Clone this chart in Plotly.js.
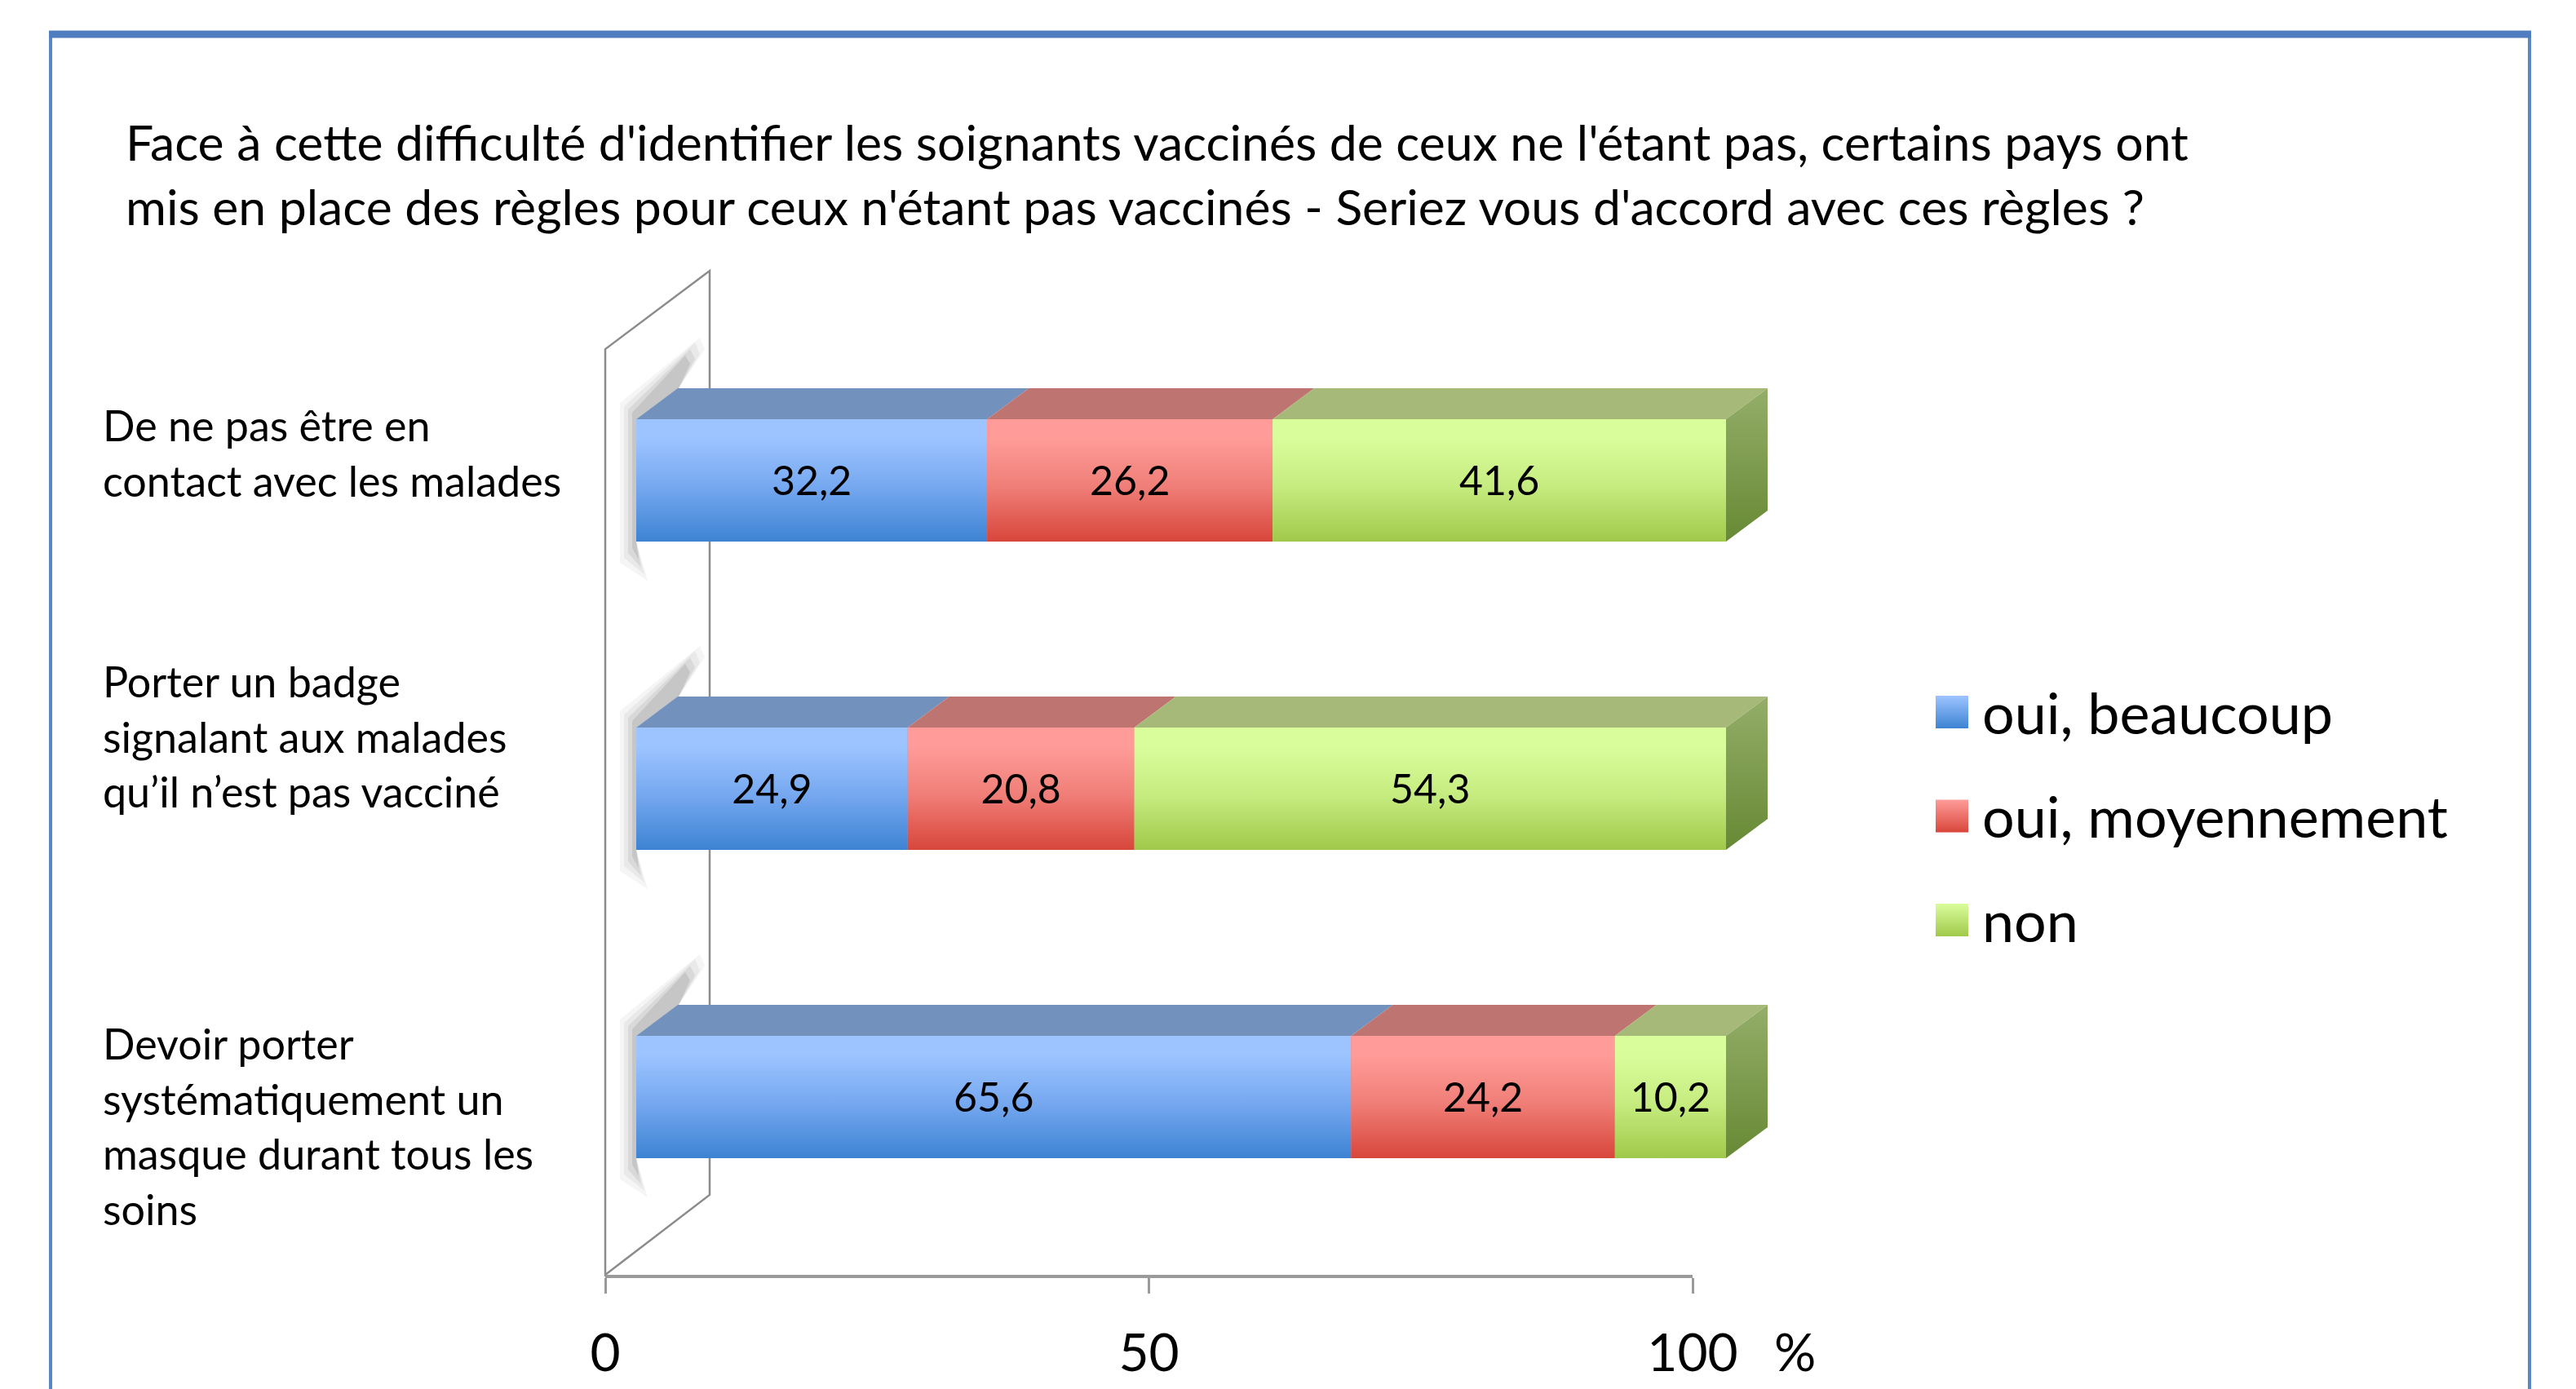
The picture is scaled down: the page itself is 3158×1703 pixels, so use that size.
<!DOCTYPE html>
<html>
<head>
<meta charset="utf-8">
<script src="https://cdn.plot.ly/plotly-3.0.1.min.js"></script>
<style>html,body{margin:0;padding:0;background:#fff;overflow:hidden}</style>
</head>
<body>
<div id="chart" style="width:3158px;height:1703px"></div>
<script>
// ---------------- data ----------------
const categories = [
  "De ne pas être en<br>contact avec les malades",
  "Porter un badge<br>signalant aux malades<br>qu’il n’est pas vacciné",
  "Devoir porter<br>systématiquement un<br>masque durant tous les<br>soins"
];
const seriesNames = ["oui, beaucoup", "oui, moyennement", "non"];
const ouiBeaucoup    = [32.2, 24.9, 65.6];
const ouiMoyennement = [26.2, 20.8, 24.2];
const non            = [41.6, 54.3, 10.2];
const xTickVals = [0, 50, 100];
const xTickText = ["0", "50", "100"];
const xUnitLabel = "%";
const titleText = "Face à cette difficulté d'identifier les soignants vaccinés de ceux ne l'étant pas, certains pays ont<br>mis en place des règles pour ceux n'étant pas vaccinés - Seriez vous d'accord avec ces règles ?";

// ---------------- layout constants ----------------
const W = 3158, H = 1703;
const FONT = "Lato, 'Open Sans', sans-serif";
const BAR_X0 = 780, BAR_PXU = 13.36;          // bar plane: px of value 0, px per unit
const X2_RANGE = [-5, 110];
const ROW_PX = 378, ROW_MID_PX = 967;          // px per category row, centre of middle row
const Y_RANGE = [-0.5, 2.5];
const BAR_W = 0.397;
const DEPTH_PX = [51, 38];
const TEXT_DY_PX = 5;
const AXIS_X0 = 742, AXIS_X1 = 2075, AXIS_Y = 1563;
const WALL = {x0: 742, x1: 870, top0: 428, top1: 332, bot0: 1563, bot1: 1465};
const LABEL_X = 124, LABEL_SHIFT = [34, 65, -35];
const LEG = {x: 2373, y0: 873, dy: 127.5, size: 40, textX: 2428};

const faces = [
  {light: '#9DC4FF', mid: '#76A8F0', dark: '#3D83D3', top: '#7291BD'},
  {light: '#FF9C99', mid: '#F07E78', dark: '#D8463B', top: '#BE7571'},
  {light: '#DAFD9C', mid: '#C6EC80', dark: '#A0C94A', top: '#A6B978', sideTop: '#94AE69', sideBot: '#678934'}
];
const grad = f => [[0, f.dark], [0.45, f.mid], [0.85, f.light], [1, f.light]];

const px = x => x / W, py = y => 1 - y / H;
const dxU = DEPTH_PX[0] / BAR_PXU, dyU = DEPTH_PX[1] / ROW_PX;
const hw = BAR_W / 2;

const series = [ouiBeaucoup, ouiMoyennement, non];
const yPos = categories.map((c, i) => categories.length - 1 - i);

const traces = [];

// floor axis carrier (keeps the tick axis in its own subplot)
traces.push({
  type: 'scatter', mode: 'markers', xaxis: 'x', yaxis: 'y4',
  x: [xTickVals[0], xTickVals[xTickVals.length - 1]], y: [0, 0],
  marker: {size: 1, opacity: 0}, hoverinfo: 'skip', showlegend: false
});

// soft shadows cast on the wall by the left end of each bar (layered to blur)
const shadowLayers = [
  [[[78,-100],[-20,-20],[-20,176],[14,198],[0,150],[0,0],[52,-38],[84,-86]], 'rgba(120,120,120,0.07)'],
  [[[72,-94],[-15,-16],[-15,170],[10,190],[0,150],[0,0],[52,-38],[78,-80]], 'rgba(120,120,120,0.09)'],
  [[[66,-86],[-10,-12],[-10,164],[6,182],[0,150],[0,0],[52,-38],[72,-74]], 'rgba(110,110,110,0.12)'],
  [[[60,-78],[-5,-8],[-5,158],[3,172],[0,150],[0,0],[52,-38],[66,-68]], 'rgba(100,100,100,0.16)']
];
yPos.forEach(yv => {
  const yt = yv + hw;
  shadowLayers.forEach(([pts, col]) => {
    traces.push({
      type: 'scatter', mode: 'lines', xaxis: 'x2', yaxis: 'y',
      x: pts.map(p => p[0] / BAR_PXU).concat([pts[0][0] / BAR_PXU]),
      y: pts.map(p => yt - p[1] / ROW_PX).concat([yt - pts[0][1] / ROW_PX]),
      fill: 'toself', fillcolor: col, line: {width: 0}, hoverinfo: 'skip', showlegend: false
    });
  });
});

// stacked bar traces (front faces)
series.forEach((vals, s) => {
  traces.push({
    type: 'bar', orientation: 'h', name: seriesNames[s], xaxis: 'x2', yaxis: 'y',
    x: vals, y: yPos, width: BAR_W,
    marker: {color: faces[s].mid, line: {width: 0}},
    hovertemplate: seriesNames[s] + ': %{x}<extra></extra>', showlegend: false
  });
});

// cumulative starts
const starts = series.map((vals, s) => vals.map((v, i) => series.slice(0, s).reduce((a, arr) => a + arr[i], 0)));

// gradient front faces
series.forEach((vals, s) => {
  vals.forEach((v, i) => {
    const a = starts[s][i], b = a + v, yb = yPos[i] - hw, yt = yPos[i] + hw;
    traces.push({
      type: 'scatter', mode: 'lines', xaxis: 'x2', yaxis: 'y',
      x: [a, b, b, a, a], y: [yb, yb, yt, yt, yb],
      fill: 'toself', fillcolor: faces[s].mid,
      fillgradient: {type: 'vertical', start: yb, stop: yt, colorscale: grad(faces[s])},
      line: {width: 0}, hoverinfo: 'skip', showlegend: false
    });
  });
});

// top faces
series.forEach((vals, s) => {
  vals.forEach((v, i) => {
    const a = starts[s][i], b = a + v, yt = yPos[i] + hw;
    traces.push({
      type: 'scatter', mode: 'lines', xaxis: 'x2', yaxis: 'y',
      x: [a, b, b + dxU, a + dxU, a], y: [yt, yt, yt + dyU, yt + dyU, yt],
      fill: 'toself', fillcolor: faces[s].top, line: {width: 0},
      hoverinfo: 'skip', showlegend: false
    });
  });
});

// side faces at the end of each bar
yPos.forEach((yv, i) => {
  const e = series.reduce((acc, arr) => acc + arr[i], 0);
  const yb = yv - hw, yt = yv + hw;
  traces.push({
    type: 'scatter', mode: 'lines', xaxis: 'x2', yaxis: 'y',
    x: [e, e + dxU, e + dxU, e, e], y: [yt, yt + dyU, yb + dyU, yb, yt],
    fill: 'toself', fillcolor: faces[2].sideTop,
    fillgradient: {type: 'vertical', start: yb, stop: yt + dyU, colorscale: [[0, faces[2].sideBot], [1, faces[2].sideTop]]},
    line: {width: 0}, hoverinfo: 'skip', showlegend: false
  });
});

// value labels
const lx = [], ly = [], lt = [];
series.forEach((vals, s) => vals.forEach((v, i) => {
  lx.push(starts[s][i] + v / 2); ly.push(yPos[i] - TEXT_DY_PX / ROW_PX); lt.push(v.toFixed(1).replace('.', ','));
}));
traces.push({
  type: 'scatter', mode: 'text', xaxis: 'x2', yaxis: 'y', x: lx, y: ly, text: lt,
  textposition: 'middle center', textfont: {family: FONT, size: 50, color: '#000'},
  hoverinfo: 'skip', showlegend: false, cliponaxis: false
});

// legend swatches (pixel-space axes)
seriesNames.forEach((n, s) => {
  const cy = LEG.y0 + s * LEG.dy, t = cy - LEG.size / 2, b = cy + LEG.size / 2;
  const l = LEG.x, r = LEG.x + LEG.size;
  traces.push({
    type: 'scatter', mode: 'lines', xaxis: 'x3', yaxis: 'y3',
    x: [l, r, r, l, l], y: [t, t, b, b, t],
    fill: 'toself', fillcolor: faces[s].mid,
    fillgradient: {type: 'vertical', start: b, stop: t, colorscale: [[0, faces[s].dark], [1, faces[s].light]]},
    line: {width: 0}, hoverinfo: 'skip', showlegend: false
  });
});

// ---------------- annotations ----------------
const annotations = [];
categories.forEach((c, i) => {
  annotations.push({
    text: c, xref: 'paper', yref: 'y', x: px(LABEL_X), y: yPos[i],
    xanchor: 'left', yanchor: 'middle', align: 'left', yshift: LABEL_SHIFT[i],
    showarrow: false, font: {family: FONT, size: 52, color: '#000'}
  });
});
seriesNames.forEach((n, s) => {
  annotations.push({
    text: n, xref: 'paper', yref: 'paper', x: px(LEG.textX), y: py(LEG.y0 + s * LEG.dy),
    xanchor: 'left', yanchor: 'middle', showarrow: false,
    font: {family: FONT, size: 70, color: '#000'}
  });
});
annotations.push({
  text: xUnitLabel, xref: 'paper', yref: 'paper', x: px(2200), y: py(1656),
  xanchor: 'center', yanchor: 'middle', showarrow: false,
  font: {family: FONT, size: 64, color: '#000'}
});

// ---------------- shapes ----------------
const shapes = [
  // frame
  {type: 'line', xref: 'paper', yref: 'paper', x0: px(62), x1: px(62), y0: py(40), y1: py(H + 20), line: {color: '#5A86C4', width: 4}},
  {type: 'line', xref: 'paper', yref: 'paper', x0: px(3101), x1: px(3101), y0: py(40), y1: py(H + 20), line: {color: '#5A86C4', width: 4}},
  {type: 'line', xref: 'paper', yref: 'paper', x0: px(60), x1: px(3103), y0: py(42), y1: py(42), line: {color: '#4F7DBF', width: 9}},
  // wall
  {type: 'path', xref: 'paper', yref: 'paper', layer: 'below',
   path: `M${px(WALL.x0)},${py(WALL.top0)} L${px(WALL.x0)},${py(WALL.bot0)} L${px(WALL.x1)},${py(WALL.bot1)} L${px(WALL.x1)},${py(WALL.top1)} Z`,
   line: {color: '#8c8c8c', width: 2.5}}
];

const layout = {
  width: W, height: H, autosize: false,
  margin: {l: 0, r: 0, t: 0, b: 0, pad: 0},
  paper_bgcolor: '#ffffff', plot_bgcolor: 'rgba(0,0,0,0)',
  showlegend: false, barmode: 'stack', bargap: 0,
  font: {family: FONT, color: '#000'},
  title: {
    text: titleText, x: px(154), xanchor: 'left', xref: 'paper',
    y: py(197), yanchor: 'top', yref: 'paper',
    font: {family: FONT, size: 60.7, color: '#000'}
  },
  xaxis: {
    domain: [px(AXIS_X0), px(AXIS_X1)], range: [0, 100], anchor: 'y4', side: 'bottom',
    showline: true, linecolor: '#9a9a9a', linewidth: 4,
    ticks: 'outside', ticklen: 19, tickwidth: 3, tickcolor: '#9a9a9a',
    tickmode: 'array', tickvals: xTickVals, ticktext: xTickText, ticklabelstandoff: 18,
    tickfont: {family: FONT, size: 64, color: '#000'},
    showgrid: false, zeroline: false, fixedrange: true, visible: true
  },
  yaxis4: {
    domain: [py(AXIS_Y), py(AXIS_Y - 60)], range: [-1, 1], anchor: 'x',
    visible: false, fixedrange: true
  },
  xaxis2: {
    domain: [px(BAR_X0 + X2_RANGE[0] * BAR_PXU), px(BAR_X0 + X2_RANGE[1] * BAR_PXU)],
    range: X2_RANGE, anchor: 'y', visible: false, fixedrange: true
  },
  yaxis: {
    domain: [py(ROW_MID_PX + 1.5 * ROW_PX), py(ROW_MID_PX - 1.5 * ROW_PX)],
    range: Y_RANGE, anchor: 'x2', visible: false, fixedrange: true
  },
  xaxis3: {domain: [0, 1], range: [0, W], anchor: 'y3', visible: false, fixedrange: true},
  yaxis3: {domain: [0, 1], range: [H, 0], anchor: 'x3', visible: false, fixedrange: true},
  annotations: annotations,
  shapes: shapes
};

Plotly.newPlot('chart', traces, layout, {displayModeBar: false, staticPlot: true});
</script>
</body>
</html>
